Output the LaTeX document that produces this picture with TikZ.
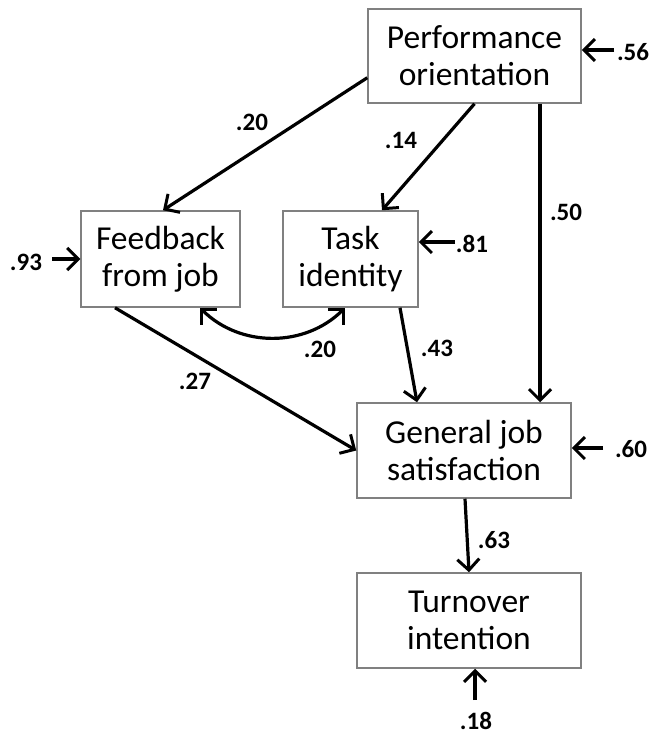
\documentclass[tikz,border=0pt]{standalone}
\usepackage{fontspec}
\setmainfont{Carlito}
\usetikzlibrary{arrows.meta,calc}
\begin{document}
\begin{tikzpicture}[x=1pt,y=-1pt,
  box/.style={draw=black!50,line width=1.5pt,fill=white,align=center,inner sep=0pt,
    font=\fontsize{33.5}{37}\selectfont},
  path/.style={line width=3.2pt,-{Straight Barb[length=11pt,width=22pt,line width=3pt]}},
  bipath/.style={line width=3.2pt,{Straight Barb[length=11pt,width=22pt,line width=3pt]}-{Straight Barb[length=11pt,width=22pt,line width=3pt]}},
  coef/.style={font=\fontsize{25}{30}\selectfont\bfseries,inner sep=0pt}]
\useasboundingbox (0,0) rectangle (651,735);
\node[box,minimum width=213pt,minimum height=94pt] (perf) at (474.5,56) {Performance\\orientation};
\node[box,minimum width=159pt,minimum height=96pt] (fb) at (160.5,259) {Feedback\\from job};
\node[box,minimum width=135pt,minimum height=96pt] (task) at (350.5,259) {Task\\identity};
\node[box,minimum width=214pt,minimum height=95pt] (gjs) at (464,450.5) {General job\\satisfaction};
\node[box,minimum width=224pt,minimum height=95pt] (turn) at (469,620.5) {Turnover\\intention};
% structural paths
\draw[path] ([yshift=26pt]perf.south west) -- ([xshift=2.5pt]fb.north);
\draw[path] (perf.south) -- ([xshift=31.5pt]task.north);
\draw[path] ([xshift=65.5pt]perf.south) -- ([xshift=76pt]gjs.north);
\draw[path] ([xshift=-45.5pt]fb.south) -- (gjs.west);
\draw[path] ([xshift=49.5pt]task.south) -- ([xshift=-47pt]gjs.north);
\draw[path] ([xshift=1pt]gjs.south) -- (turn.north);
\draw[bipath] ([xshift=39.5pt]fb.south) .. controls +(40,40) and +(-40,40) .. ([xshift=-5.5pt]task.south);
% error terms
\coordinate (e56) at (614,50);
\coordinate (e93) at (52,259);
\coordinate (e81) at (455,242);
\coordinate (e60) at (603,448);
\coordinate (e18) at (475,700);
\draw[path] (e56) -- ([yshift=6pt]perf.east);
\draw[path] (e93) -- (fb.west);
\draw[path] (e81) -- ([yshift=17pt]task.east);
\draw[path] (e60) -- ([yshift=2.5pt]gjs.east);
\draw[path] (e18) -- ([xshift=6pt]turn.south);
% labels
\node[coef] (l20a) at (252,122) {.20};
\node[coef] (l14) at (401,140) {.14};
\node[coef] (l50) at (566,212) {.50};
\node[coef] (l93) at (26,262) {.93};
\node[coef] (l81) at (472,244) {.81};
\node[coef] (l20b) at (320,349) {.20};
\node[coef] (l43) at (437,348) {.43};
\node[coef] (l27) at (195,381) {.27};
\node[coef] (l60) at (631,449) {.60};
\node[coef] (l63) at (494,540) {.63};
\node[coef] (l56) at (633,52) {.56};
\node[coef] (l18) at (476,721) {.18};
\end{tikzpicture}
\end{document}
